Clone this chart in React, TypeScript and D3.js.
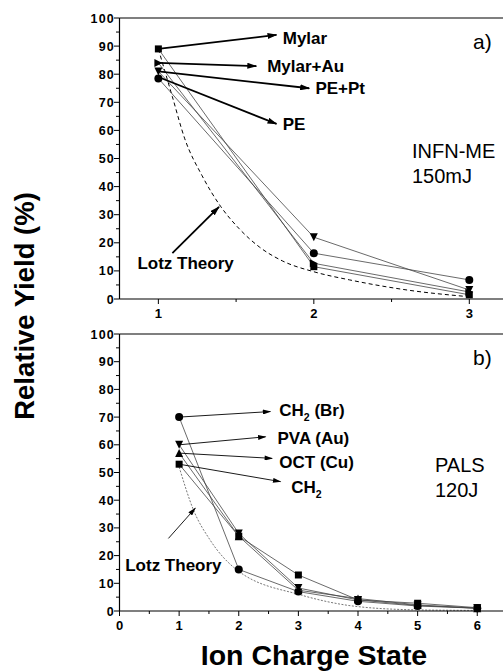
import React from 'react'
import * as d3 from 'd3'

// panel a) INFN-ME 150mJ, charge states 1..3
const statesA = [1, 2, 3]
const mylar = [89, 11.5, 1.5]
const mylarAu = [84, 12.7, 2.5]
const pePt = [81, 22, 3.2]
const pe = [78.5, 16.3, 6.8]
const lotzAx = [1, 1.09, 1.17, 1.28, 1.4, 1.52, 1.65, 1.8, 2, 2.23, 2.6, 3]
const lotzAy = [89, 72, 57, 44, 33, 25, 18.5, 13.5, 9.7, 6.8, 3.2, 0.8]

// panel b) PALS 120J, charge states 1..6
const statesB = [1, 2, 3, 4, 5, 6]
const ch2Br = [70, 15, 7, 3.5, 1.8, 1]
const pvaAu = [60, 28, 8.3, 4, 2, 1]
const octCu = [57, 27, 7.5, 4.5, 2.2, 1]
const ch2 = [53, 27, 13, 4, 2.8, 1.2]
const lotzBx = [1, 1.24, 1.52, 1.97, 3.04, 3.99, 5, 6]
const lotzBy = [52, 36.5, 25.6, 14.8, 5.8, 1.6, 0.4, 0.2]

const yTicks = [0, 10, 20, 30, 40, 50, 60, 70, 80, 90, 100]

const W = 503
const H = 672
const font = 'Liberation Sans, Arial, sans-serif'

type Shape = 'square' | 'circle' | 'down' | 'up' | 'right'

const Marker = ({x, y, shape, r = 4}: {x: number; y: number; shape: Shape; r?: number}) => {
  if (shape === 'circle') return <circle cx={x} cy={y} r={r} fill="#000" />
  if (shape === 'square')
    return <rect x={x - r + 0.5} y={y - r + 0.5} width={2 * r - 1} height={2 * r - 1} fill="#000" />
  let pts: number[][] = []
  if (shape === 'down') pts = [[x - r, y - r], [x + r, y - r], [x, y + r]]
  if (shape === 'up') pts = [[x - r, y + r], [x + r, y + r], [x, y - r]]
  if (shape === 'right') pts = [[x - r, y - r], [x - r, y + r], [x + r, y]]
  return <polygon points={pts.map(p => p.join(',')).join(' ')} fill="#000" />
}

const Panel = ({top, bottom, xDomain, xTicks, xMinor, xLabels, series, lotzX, lotzY, lotzDash, lotzColor, labels, arrowW, headId, corner, note}: any) => {
  const x = d3.scaleLinear().domain(xDomain).range([119.5, W + 0.5])
  const y = d3.scaleLinear().domain([0, 100]).range([bottom, top])
  const line = d3.line<number[]>().x(d => x(d[0])).y(d => y(d[1]))
  const curve = d3
    .line<number[]>()
    .curve(d3.curveMonotoneX)
    .x(d => x(d[0]))
    .y(d => y(d[1]))
  const yMinor = d3.range(5, 100, 10)
  return (
    <g>
      {/* lotz theory */}
      <path
        d={curve(lotzX.map((v: number, i: number) => [v, lotzY[i]])) || ''}
        fill="none"
        stroke={lotzColor}
        strokeWidth={1}
        strokeDasharray={lotzDash}
      />
      {series.map((s: any) => (
        <g key={s.name}>
          <path
            d={line(s.xs.map((v: number, i: number) => [v, s.values[i]])) || ''}
            fill="none"
            stroke="#444"
            strokeWidth={0.8}
          />
          {s.xs.map((v: number, i: number) => (
            <Marker key={i} x={x(v)} y={y(s.values[i])} shape={s.shape} />
          ))}
        </g>
      ))}
      {/* axes */}
      <line x1={119.5} x2={W} y1={top} y2={top} stroke="#000" strokeWidth={1.2} />
      <line x1={119.5} x2={119.5} y1={top} y2={bottom} stroke="#000" strokeWidth={1.2} />
      <line x1={119.5} x2={W} y1={bottom} y2={bottom} stroke="#000" strokeWidth={1.2} />
      {yTicks.map(t => (
        <g key={t}>
          <line x1={114} x2={119.5} y1={y(t)} y2={y(t)} stroke="#000" />
          <text x={115} y={y(t) + 4.5} textAnchor="end" fontSize={12.5} letterSpacing={1.2} fontWeight="bold" fontFamily={font}>
            {t}
          </text>
        </g>
      ))}
      {yMinor.map(t => (
        <line key={t} x1={116} x2={119.5} y1={y(t)} y2={y(t)} stroke="#000" />
      ))}
      {xTicks.map((t: number) => (
        <line key={t} x1={x(t)} x2={x(t)} y1={bottom} y2={bottom + 5} stroke="#000" />
      ))}
      {xMinor.map((t: number) => (
        <line key={t} x1={x(t)} x2={x(t)} y1={bottom} y2={bottom + 3} stroke="#000" />
      ))}
      {xLabels.map((t: number) => (
        <text key={t} x={x(t)} y={bottom + 19} textAnchor="middle" fontSize={13} fontWeight="bold" fontFamily={font}>
          {t}
        </text>
      ))}
      {/* annotations */}
      {labels.map((l: any, i: number) => (
        <g key={i}>
          <line
            x1={x(l.from[0])}
            y1={y(l.from[1])}
            x2={x(l.to[0])}
            y2={y(l.to[1])}
            stroke="#000"
            strokeWidth={l.thin ? 0.9 : arrowW}
            markerEnd={`url(#${l.thin ? 'headThin' : headId})`}
          />
          <text
            x={x(l.at[0])}
            y={y(l.at[1]) + 6}
            fontSize={17}
            fontWeight="bold"
            fontFamily={font}
          >
            {l.text}
            {l.sub && (
              <tspan fontSize={10.5} dy={5}>
                {l.sub}
              </tspan>
            )}
            {l.rest && <tspan dy={-5}>{l.rest}</tspan>}
          </text>
        </g>
      ))}
      <text x={W - 30} y={top + 31} fontSize={21} fontFamily={font}>
        {corner}
      </text>
      {note.map((t: string, i: number) => (
        <text key={i} x={note.x} y={note.y + i * 25} fontSize={20} fontFamily={font}>
          {t}
        </text>
      ))}
    </g>
  )
}

const App = () => {
  const seriesA = [
    {name: 'Mylar', xs: statesA, values: mylar, shape: 'square'},
    {name: 'Mylar+Au', xs: statesA, values: mylarAu, shape: 'right'},
    {name: 'PE+Pt', xs: statesA, values: pePt, shape: 'down'},
    {name: 'PE', xs: statesA, values: pe, shape: 'circle'},
  ]
  const seriesB = [
    {name: 'CH2 (Br)', xs: statesB, values: ch2Br, shape: 'circle'},
    {name: 'PVA (Au)', xs: statesB, values: pvaAu, shape: 'down'},
    {name: 'OCT (Cu)', xs: statesB, values: octCu, shape: 'up'},
    {name: 'CH2', xs: statesB, values: ch2, shape: 'square'},
  ]
  const labelsA = [
    {from: [1, 89], to: [1.76, 94], at: [1.8, 92.9], text: 'Mylar'},
    {from: [1, 84], to: [1.63, 82.9], at: [1.7, 82.9], text: 'Mylar+Au'},
    {from: [1, 81], to: [1.97, 75], at: [2.01, 75], text: 'PE+Pt'},
    {from: [1, 79], to: [1.76, 62.3], at: [1.8, 62.3], text: 'PE'},
    {from: [1.09, 16.3], to: [1.39, 32.8], at: [0.865, 12.8], text: 'Lotz Theory'},
  ]
  const labelsB = [
    {from: [1, 70], to: [2.53, 72], at: [2.68, 72.6], text: 'CH', sub: '2', rest: ' (Br)', thin: true},
    {from: [1, 60], to: [2.45, 62.9], at: [2.65, 62.5], text: 'PVA (Au)', thin: true},
    {from: [1, 57], to: [2.56, 55.1], at: [2.68, 53.9], text: 'OCT (Cu)', thin: true},
    {from: [1, 53], to: [2.7, 46.7], at: [2.88, 44.9], text: 'CH', sub: '2', thin: true},
    {from: [0.82, 26.2], to: [1.27, 37.1], at: [0.096, 16.6], text: 'Lotz Theory', thin: true},
  ]
  const noteA: any = ['INFN-ME', '150mJ']
  noteA.x = 412
  noteA.y = 158
  const noteB: any = ['PALS', '120J']
  noteB.x = 435
  noteB.y = 472
  return (
    <svg width={W} height={H} style={{position: 'absolute', left: 0, top: 0, background: '#fff'}}>
      <defs>
        <marker id="headThick" viewBox="0 0 10 6" refX={9} refY={3} markerWidth={10} markerHeight={6} markerUnits="userSpaceOnUse" orient="auto">
          <path d="M0,0 L10,3 L0,6 z" fill="#000" />
        </marker>
        <marker id="headThin" viewBox="0 0 10 6" refX={9} refY={3} markerWidth={9} markerHeight={5} markerUnits="userSpaceOnUse" orient="auto">
          <path d="M0,0 L10,3 L0,6 z" fill="#000" />
        </marker>
      </defs>
      <rect width={W} height={H} fill="#fff" />
      <Panel
        top={18}
        bottom={299}
        xDomain={[0.75, 3.22]}
        xTicks={[1, 2, 3]}
        xMinor={[1.5, 2.5]}
        xLabels={[1, 2, 3]}
        series={seriesA}
        lotzX={lotzAx}
        lotzY={lotzAy}
        lotzDash="4,3"
        lotzColor="#000"
        labels={labelsA}
        arrowW={1.8}
        headId="headThick"
        corner="a)"
        note={noteA}
      />
      <Panel
        top={334}
        bottom={611}
        xDomain={[0, 6.44]}
        xTicks={[0, 1, 2, 3, 4, 5, 6]}
        xMinor={[0.5, 1.5, 2.5, 3.5, 4.5, 5.5]}
        xLabels={[0, 1, 2, 3, 4, 5, 6]}
        series={seriesB}
        lotzX={lotzBx}
        lotzY={lotzBy}
        lotzDash="2,1.5"
        lotzColor="#777"
        labels={labelsB}
        arrowW={1}
        headId="headThin"
        corner="b)"
        note={noteB}
      />
      <text
        transform="translate(34,306) rotate(-90)"
        textAnchor="middle"
        fontSize={27.5}
        fontWeight="bold"
        fontFamily={font}
      >
        Relative Yield (%)
      </text>
      <text x={314} y={665} textAnchor="middle" fontSize={28.5} fontWeight="bold" fontFamily={font}>
        Ion Charge State
      </text>
    </svg>
  )
}

export default App
